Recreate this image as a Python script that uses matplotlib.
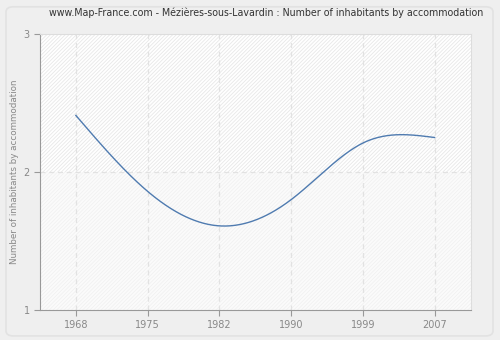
import numpy as np
import matplotlib.pyplot as plt
from matplotlib.patches import FancyBboxPatch, Rectangle

years = ["1968", "1975", "1982", "1990", "1999", "2007"]
inhabitants_per_home = [2.41, 1.86, 1.61, 1.80, 2.21, 2.25]
y_ticks = [1, 2, 3]
title = "www.Map-France.com - Mézières-sous-Lavardin : Number of inhabitants by accommodation"
y_label = "Number of inhabitants by accommodation"


def natural_spline(x, y, n=400):
    # natural cubic spline, only used to draw the smooth curve between points
    x = np.asarray(x, float)
    y = np.asarray(y, float)
    k = len(x)
    h = np.diff(x)
    A = np.zeros((k, k))
    b = np.zeros(k)
    A[0, 0] = A[-1, -1] = 1
    for i in range(1, k - 1):
        A[i, i - 1] = h[i - 1]
        A[i, i] = 2 * (h[i - 1] + h[i])
        A[i, i + 1] = h[i]
        b[i] = 6 * ((y[i + 1] - y[i]) / h[i] - (y[i] - y[i - 1]) / h[i - 1])
    m = np.linalg.solve(A, b)
    xs = np.linspace(x[0], x[-1], n)
    idx = np.clip(np.searchsorted(x, xs) - 1, 0, k - 2)
    x0, x1 = x[idx], x[idx + 1]
    hh = x1 - x0
    t0, t1 = x1 - xs, xs - x0
    ys = (m[idx] * t0 ** 3 + m[idx + 1] * t1 ** 3) / (6 * hh) \
        + (y[idx] / hh - m[idx] * hh / 6) * t0 \
        + (y[idx + 1] / hh - m[idx + 1] * hh / 6) * t1
    return xs, ys


plt.rcParams["hatch.linewidth"] = 0.6

fig = plt.figure(figsize=(5, 3.4), dpi=100, facecolor="#efefef")
fig.patches.append(FancyBboxPatch((0.012, 0.012), 0.974, 0.968, boxstyle="round,pad=0,rounding_size=0.015",
                                  transform=fig.transFigure, facecolor="#efefef",
                                  edgecolor="#e2e2e2", linewidth=1.2, zorder=-1))

ax = fig.add_axes([0.08, 0.088, 0.861, 0.812])
ax.set_facecolor("white")

# hatched background, lighter under y=2
ax.add_patch(Rectangle((0, 0.5), 1, 0.5, transform=ax.transAxes, facecolor="white",
                       hatch="/" * 9, edgecolor="#e8e8e8", linewidth=0, zorder=0))
ax.add_patch(Rectangle((0, 0), 1, 0.5, transform=ax.transAxes, facecolor="#fbfbfb",
                       hatch="/" * 9, edgecolor="#f1f1f1", linewidth=0, zorder=0))

xpos = np.arange(len(years))
xs, ys = natural_spline(xpos, inhabitants_per_home)
ax.plot(xs, ys, color="#4f7bb0", linewidth=1.0, zorder=3)

ax.set_xlim(-0.5, len(years) - 0.5)
ax.set_ylim(1, 3)
ax.set_xticks(xpos)
ax.set_xticklabels(years)
ax.set_yticks(y_ticks)

for x in xpos:
    ax.axvline(x, color="#e2e2e2", linestyle=(0, (4, 3)), linewidth=0.9, zorder=1)
ax.axhline(2, color="#e2e2e2", linestyle=(0, (4, 3)), linewidth=0.9, zorder=1)

for s in ["left", "bottom"]:
    ax.spines[s].set_color("#999999")
for s in ["top", "right"]:
    ax.spines[s].set_color("#dddddd")
ax.tick_params(colors="#999999", labelcolor="#888888", labelsize=7, length=4, width=0.8)

ax.set_ylabel(y_label, color="#888888", fontsize=6.3, labelpad=3)
fig.text(0.533, 0.963, title, ha="center", va="center", fontsize=6.85, color="#333333")

fig.savefig("out.png", dpi=100, facecolor=fig.get_facecolor())
